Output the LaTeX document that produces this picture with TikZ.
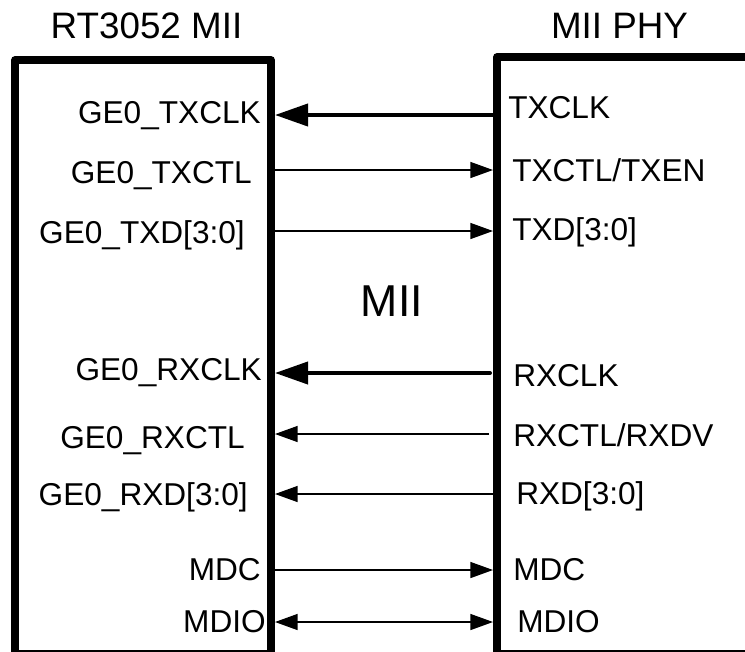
\documentclass[tikz,border=0pt]{standalone}
\usepackage{fontspec}
\setmainfont{Liberation Sans}
\usetikzlibrary{arrows.meta}

\tikzset{
  chipbox/.style={line width=5.7pt, line join=round},
  clkline/.style={line width=3pt, -{Triangle[length=24.75pt,width=16.5pt]}},
  sigline/.style={line width=1.1pt, -{Triangle[length=17pt,width=12pt]}},
  bothline/.style={line width=1.1pt, {Triangle[length=17pt,width=12pt]}-{Triangle[length=17pt,width=12pt]}},
  pinlbl/.style={inner sep=0pt, font=\fontsize{23.7}{28}\selectfont},
  titlelbl/.style={inner sep=0pt, font=\fontsize{27.6}{32}\selectfont}
}

\begin{document}
\begin{tikzpicture}[x=0.75pt,y=0.75pt,yscale=-1,xscale=1]
\useasboundingbox (0,0) rectangle (745,651);

%Shape: Rectangle (RT3052 side)
\draw [chipbox] (15,60) rectangle (271,654) ;
%Shape: Rectangle (PHY side)
\draw [chipbox] (497,57) rectangle (800,654) ;

% pins on the box edges
\coordinate (socTXCLK) at (275,115);
\coordinate (socTXCTL) at (275,170);
\coordinate (socTXD) at (275,231);
\coordinate (socRXCLK) at (275,373);
\coordinate (socRXCTL) at (275,434);
\coordinate (socRXD) at (275,494);
\coordinate (socMDC) at (275,570);
\coordinate (socMDIO) at (275,622);

\coordinate (phyTXCLK) at (493,115);
\coordinate (phyTXCTL) at (493,170);
\coordinate (phyTXD) at (493,231);
\coordinate (phyRXCLK) at (490,373);
\coordinate (phyRXCTL) at (489,434);
\coordinate (phyRXD) at (493,494);
\coordinate (phyMDC) at (493,570);
\coordinate (phyMDIO) at (493,622);

%Straight Lines
\draw [clkline] (phyTXCLK) -- (socTXCLK) ;
\draw [sigline] (socTXCTL) -- (phyTXCTL) ;
\draw [sigline] (socTXD) -- (phyTXD) ;
\draw [clkline, line cap=round] (phyRXCLK) -- (socRXCLK) ;
\draw [sigline] (phyRXCTL) -- (socRXCTL) ;
\draw [sigline] (phyRXD) -- (socRXD) ;
\draw [sigline] (socMDC) -- (phyMDC) ;
\draw [bothline] (socMDIO) -- (phyMDIO) ;

% Text Node
\node (socTitle) at (146.5,38) [anchor=base, titlelbl] {RT3052 MII};
% Text Node
\node (phyTitle) at (619.5,38) [anchor=base, titlelbl] {MII PHY};
% Text Node
\node (busName) at (392,316) [anchor=base, inner sep=0pt, font=\fontsize{33.5}{38}\selectfont] {MII};

% Text Node
\node (lTXCLK) at (261,123) [anchor=base east, pinlbl] {GE0\_TXCLK};
\node (lTXCTL) at (252,183) [anchor=base east, pinlbl] {GE0\_TXCTL};
\node (lTXD) at (245,243) [anchor=base east, pinlbl] {GE0\_TXD[3:0]};
\node (lRXCLK) at (262,380) [anchor=base east, pinlbl] {GE0\_RXCLK};
\node (lRXCTL) at (245,448) [anchor=base east, pinlbl] {GE0\_RXCTL};
\node (lRXD) at (248,505) [anchor=base east, pinlbl] {GE0\_RXD[3:0]};
\node (lMDC) at (261,580) [anchor=base east, pinlbl] {MDC};
\node (lMDIO) at (266,632) [anchor=base east, pinlbl] {MDIO};

% Text Node
\node (rTXCLK) at (508,118) [anchor=base west, pinlbl] {TXCLK};
\node (rTXCTL) at (512,181) [anchor=base west, pinlbl] {TXCTL/TXEN};
\node (rTXD) at (512,240) [anchor=base west, pinlbl] {TXD[3:0]};
\node (rRXCLK) at (513,386) [anchor=base west, pinlbl] {RXCLK};
\node (rRXCTL) at (513,446) [anchor=base west, pinlbl] {RXCTL/RXDV};
\node (rRXD) at (516,504) [anchor=base west, pinlbl] {RXD[3:0]};
\node (rMDC) at (513,580) [anchor=base west, pinlbl] {MDC};
\node (rMDIO) at (517,632) [anchor=base west, pinlbl] {MDIO};

\end{tikzpicture}
\end{document}
